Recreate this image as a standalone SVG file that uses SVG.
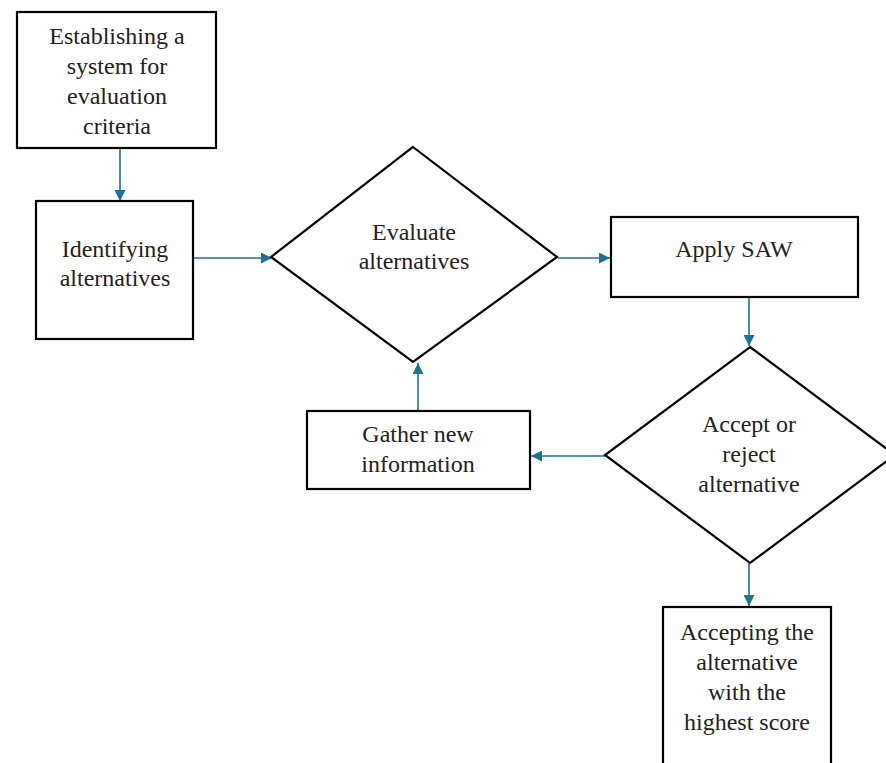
<svg xmlns="http://www.w3.org/2000/svg" width="886" height="763" viewBox="0 0 886 763">
<style>
.shape{fill:#fff;stroke:#000;stroke-width:2.2}
.lbl{font-family:'Liberation Serif','Times New Roman',serif;font-size:24px;fill:#222;text-anchor:middle}
.conn{stroke:#1b7394;stroke-width:1.6;fill:none;marker-end:url(#ah)}
</style>
<defs>
<marker id="ah" viewBox="0 0 10 10" refX="10" refY="5" markerWidth="11" markerHeight="11" orient="auto" markerUnits="userSpaceOnUse">
<path d="M0,0 L10,5 L0,10 z" fill="#1b7394"/>
</marker>
</defs>
<rect width="886" height="763" fill="#fff"/>
<g id="connectors">
<path class="conn" d="M120,148 V201"/>
<path class="conn" d="M193,258 H272"/>
<path class="conn" d="M558,258 H610"/>
<path class="conn" d="M749,297 V346"/>
<path class="conn" d="M605,456 H531"/>
<path class="conn" d="M418,411 V363"/>
<path class="conn" d="M749,563 V606"/>
</g>
<g id="n1"><rect class="shape" x="17" y="12" width="199" height="136"/>
<text class="lbl"><tspan x="117" y="44">Establishing a</tspan><tspan x="117" y="74">system for</tspan><tspan x="117" y="104">evaluation</tspan><tspan x="117" y="134">criteria</tspan></text></g>
<g id="n2"><rect class="shape" x="36" y="201" width="157" height="138"/>
<text class="lbl"><tspan x="115" y="257">Identifying</tspan><tspan x="115" y="286">alternatives</tspan></text></g>
<g id="n3"><polygon class="shape" points="413,147 557,257 413,362 271,257"/>
<text class="lbl"><tspan x="414" y="240">Evaluate</tspan><tspan x="414" y="269">alternatives</tspan></text></g>
<g id="n4"><rect class="shape" x="611" y="217" width="247" height="80"/>
<text class="lbl"><tspan x="734" y="257">Apply SAW</tspan></text></g>
<g id="n5"><polygon class="shape" points="750,347 895,455 750,563 605,455"/>
<text class="lbl"><tspan x="749" y="432">Accept or</tspan><tspan x="749" y="462">reject</tspan><tspan x="749" y="492">alternative</tspan></text></g>
<g id="n6"><rect class="shape" x="307" y="411" width="223" height="78"/>
<text class="lbl"><tspan x="418" y="442">Gather new</tspan><tspan x="418" y="472">information</tspan></text></g>
<g id="n7"><rect class="shape" x="663" y="607" width="168" height="180"/>
<text class="lbl"><tspan x="747" y="640">Accepting the</tspan><tspan x="747" y="670">alternative</tspan><tspan x="747" y="700">with the</tspan><tspan x="747" y="730">highest score</tspan></text></g>
</svg>
